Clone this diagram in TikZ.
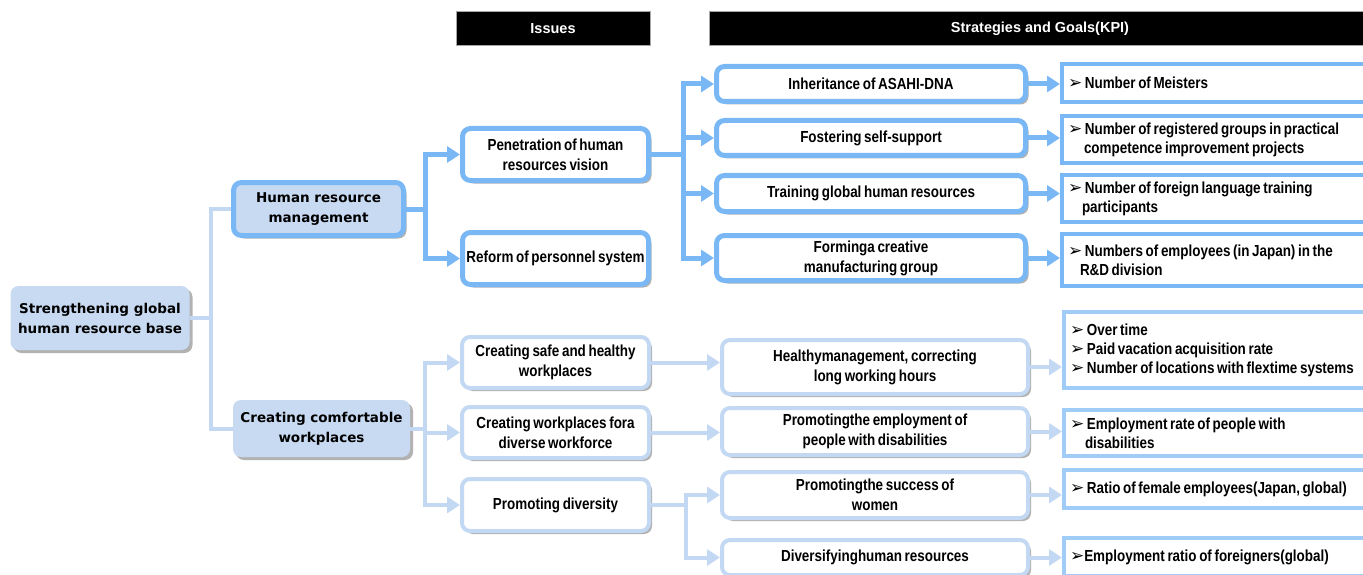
\documentclass[tikz,border=0pt]{standalone}
\usepackage{fontspec}
\newfontfamily\nar{Liberation Sans}[FakeStretch=0.84, WordSpace=0.7]
\newfontfamily\hdf{Liberation Sans}
\newfontfamily\vdf{DejaVu Sans}
\usetikzlibrary{arrows.meta,shadows}
\definecolor{bb}{RGB}{122,183,245}
\definecolor{pb}{RGB}{195,216,242}
\definecolor{lf}{RGB}{200,218,242}
\definecolor{kb}{RGB}{160,204,248}
\newcommand{\kar}{{\vdf\fontsize{17}{17}\selectfont ➢}}
\tikzset{
 base/.style={rounded corners=8pt, align=center, inner sep=2pt, text=black,
   font=\nar\bfseries\fontsize{16}{20}\selectfont},
 shad/.style={drop shadow={shadow xshift=3pt, shadow yshift=-3pt, opacity=0.3, fill=black}},
 leftbox/.style={base, shad, fill=lf, font=\vdf\bfseries\fontsize{13.5}{20}\selectfont},
 bbox/.style={base, shad, draw=bb, line width=5pt, fill=white},
 pbox/.style={base, shad, draw=pb, line width=4pt, fill=white},
 kbox/.style={draw=bb, line width=4pt, fill=white, anchor=west, text width=300pt,
   inner xsep=6pt, inner ysep=2pt, align=left, text=black,
   execute at begin node={\spaceskip=0pt\xspaceskip=0pt\relax},
   font=\nar\bfseries\fontsize{16}{19}\selectfont},
 hdr/.style={fill=black, draw=gray!70, line width=1pt, text=white, inner sep=0pt,
   font=\hdf\bfseries\fontsize{14.5}{16}\selectfont},
 bline/.style={draw=bb, line width=5pt},
 barr/.style={bline, -{Triangle[length=13pt,width=16pt]}},
 pline/.style={draw=pb, line width=4pt},
 parr/.style={pline, -{Triangle[length=13pt,width=16pt]}},
}
\begin{document}
\begin{tikzpicture}[x=1pt,y=-1pt]
\useasboundingbox (0,0) rectangle (1363,575);
\clip (0,0) rectangle (1363,575);
% headers
\node[hdr, minimum width=194, minimum height=34] (hi) at (553,29) {Issues};
\node[hdr, minimum width=662, minimum height=34] (hs) at (1040,28.5) {Strategies and Goals(KPI)};
% left nodes
\node[leftbox, minimum width=179, minimum height=64] (root) at (100,318) {Strengthening global\\human resource base};
\node[leftbox, draw=bb, line width=5pt, minimum width=170, minimum height=53] (hrm) at (318.5,209) {Human resource\\management};
\node[leftbox, minimum width=177, minimum height=57] (ccw) at (321.5,428.5) {Creating comfortable\\workplaces};
% issues
\node[bbox, minimum width=186, minimum height=52] (pen) at (555.5,154.5) {Penetration of human\\resources vision};
\node[bbox, minimum width=186, minimum height=52] (ref) at (555.5,258.5) {Reform of personnel system};
\node[pbox, minimum width=187, minimum height=51] (saf) at (555.5,362.5) {Creating safe and healthy\\workplaces};
\node[pbox, minimum width=187, minimum height=51] (dvw) at (555.5,432.5) {Creating workplaces fora\\diverse workforce};
\node[pbox, minimum width=187, minimum height=52] (pdv) at (555.5,505) {Promoting diversity};
% strategies
\node[bbox, minimum width=309, minimum height=35] (inh) at (871,84) {Inheritance of ASAHI-DNA};
\node[bbox, minimum width=309, minimum height=35] (fos) at (871,138) {Fostering self-support};
\node[bbox, minimum width=309, minimum height=36] (tra) at (871,193.5) {Training global human resources};
\node[bbox, minimum width=309, minimum height=45] (frm) at (871,258) {Forminga creative\\manufacturing group};
\node[pbox, minimum width=306, minimum height=54] (hlt) at (875,367) {Healthymanagement, correcting\\long working hours};
\node[pbox, minimum width=306, minimum height=47] (emp) at (875,431.5) {Promotingthe employment of\\people with disabilities};
\node[pbox, minimum width=306, minimum height=46] (suc) at (875,495) {Promotingthe success of\\women};
\node[pbox, minimum width=306, minimum height=35] (dvh) at (875,557.5) {Diversifyinghuman resources};
% KPI
\node[kbox, minimum height=38] (k1) at (1060,83) {\kar\ Number of Meisters};
\node[kbox, minimum height=47] (k2) at (1060,139.5) {\kar\ Number of registered groups in practical\\\hspace*{16pt}competence improvement projects};
\node[kbox, minimum height=47] (k3) at (1060,198.5) {\kar\ Number of foreign language training\\\hspace*{14pt}participants};
\node[kbox, minimum height=52] (k4) at (1060,260) {\kar\ Numbers of employees (in Japan) in the\\\hspace*{12pt}R\&D division};
\node[kbox, draw=kb, minimum height=76] (k5) at (1062,350) {\kar\ Over time\\\kar\ Paid vacation acquisition rate\\\kar\ Number of locations with flextime systems};
\node[kbox, draw=kb, minimum height=46] (k6) at (1062,433) {\kar\ Employment rate of people with\\\hspace*{15pt}disabilities};
\node[kbox, draw=kb, minimum height=38] (k7) at (1062,489) {\kar\ Ratio of female employees(Japan, global)};
\node[kbox, draw=kb, minimum height=38] (k8) at (1062,557) {\kar Employment ratio of foreigners(global)};
% connectors: root
\draw[pline] (root.east) -- ++(21,0) coordinate (rj);
\draw[pline] (hrm.west) -| (rj) |- (ccw.west);
% hrm -> issues
\draw[bline] (hrm.east) -- ++(19,0) coordinate (hj);
\draw[barr] (hj) |- (pen.west);
\draw[barr] (hj) |- (ref.west);
% pen -> strategies
\draw[bline] (pen.east) -- ++(32,0) coordinate (pj);
\draw[barr] (pj) |- (inh.west);
\draw[barr] (pj) |- (fos.west);
\draw[barr] (pj) |- (tra.west);
\draw[barr] (pj) |- (frm.west);
% strategies -> KPI (upper)
\draw[barr] (inh.east) -- (inh.east -| k1.west);
\draw[barr] (fos.east) -- (fos.east -| k2.west);
\draw[barr] (tra.east) -- (tra.east -| k3.west);
\draw[barr] (frm.east) -- (frm.east -| k4.west);
% ccw -> issues
\draw[pline] (ccw.east) -- ++(15,0) coordinate (cj);
\draw[parr] (cj) |- (saf.west);
\draw[parr] (cj) |- (dvw.west);
\draw[parr] (cj) |- (pdv.west);
% lower issues -> strategies
\draw[parr] (saf.east) -- (saf.east -| hlt.west);
\draw[parr] (dvw.east) -- (dvw.east -| emp.west);
\draw[pline] (pdv.east) -- ++(35,0) coordinate (dj);
\draw[parr] (dj) |- (suc.west);
\draw[parr] (dj) |- (dvh.west);
% lower strategies -> KPI
\draw[parr] (hlt.east) -- (hlt.east -| k5.west);
\draw[parr] (emp.east) -- (emp.east -| k6.west);
\draw[parr] (suc.east) -- (suc.east -| k7.west);
\draw[parr] (dvh.east) -- (dvh.east -| k8.west);
\end{tikzpicture}
\end{document}
